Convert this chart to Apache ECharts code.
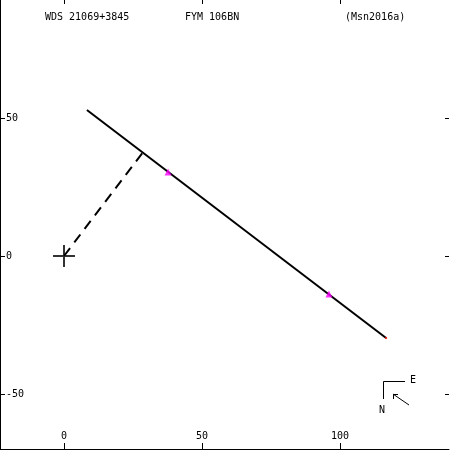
<!DOCTYPE html>
<html><head><meta charset="utf-8">
<script src="https://cdn.jsdelivr.net/npm/echarts@6/dist/echarts.min.js"></script>
<style>html,body{margin:0;padding:0;background:#fff}#c{width:450px;height:450px}</style>
</head><body><div id="c"></div>
<script>
// Data (arcsec-like units)
const titleTexts = ["WDS 21069+3845", "FYM 106BN", "(Msn2016a)"];
const xTicks = [0, 50, 100];
const yTicks = [-50, 0, 50];
const orbitLine = [[8.3, 52.9], [116.7, -29.7]];
const nodeLine = [[0, 0], [28.3, 37.2]];
const observations = [[37.7, 30.4], [96.0, -13.8]];
const primary = [[0, 0]];
const endPoint = [[116.7, -29.7]];

const font = 'DejaVu Sans Mono';
const chart = echarts.init(document.getElementById('c'), null, {renderer: 'canvas'});
const axisCommon = {type: 'value', splitLine: {show: false}};
chart.setOption({
  animation: false,
  backgroundColor: '#fff',
  grid: {left: 0, top: 0, width: 449, height: 449},
  xAxis: [
    Object.assign({}, axisCommon, {
      position: 'bottom', min: -23.19, max: 139.49,
      axisLine: {show: true, onZero: false, lineStyle: {color: '#000', width: 1}},
      axisTick: {show: true, inside: true, length: 6, customValues: xTicks, lineStyle: {color: '#000'}},
      axisLabel: {show: true, inside: true, margin: 8, customValues: xTicks, color: '#000', fontFamily: font, fontSize: 10}
    }),
    Object.assign({}, axisCommon, {
      position: 'top', min: -23.19, max: 139.49,
      axisLine: {show: false, onZero: false},
      axisTick: {show: true, inside: true, length: 4, customValues: xTicks, lineStyle: {color: '#000'}},
      axisLabel: {show: false}
    })
  ],
  yAxis: [
    Object.assign({}, axisCommon, {
      position: 'left', min: -69.93, max: 92.75,
      axisLine: {show: true, onZero: false, lineStyle: {color: '#000', width: 1}},
      axisTick: {show: true, inside: true, length: 5, customValues: yTicks, lineStyle: {color: '#000'}},
      axisLabel: {show: true, inside: true, margin: 6, customValues: yTicks, color: '#000', fontFamily: font, fontSize: 10}
    }),
    Object.assign({}, axisCommon, {
      position: 'right', min: -69.93, max: 92.75,
      axisLine: {show: false, onZero: false},
      axisTick: {show: true, inside: true, length: 4, customValues: yTicks, lineStyle: {color: '#000'}},
      axisLabel: {show: false}
    })
  ],
  series: [
    {type: 'line', data: orbitLine, symbol: 'none', lineStyle: {color: '#000', width: 2}, z: 2},
    {type: 'line', data: nodeLine, symbol: 'none', lineStyle: {color: '#000', width: 2, type: [10, 7]}, z: 2},
    {type: 'scatter', data: observations, symbol: 'triangle', symbolSize: 7, itemStyle: {color: '#ff00ff'}, z: 3},
    {type: 'scatter', data: primary, symbol: 'path://M0 10h22v2H0z M10 0h2v22h-2z', symbolSize: 22, itemStyle: {color: '#000'}, z: 3},
    {type: 'scatter', data: endPoint, symbol: 'rect', symbolSize: 2, itemStyle: {color: '#ff0000'}, z: 4}
  ],
  graphic: [
    {type: 'text', left: 45, top: 12, style: {text: titleTexts[0], font: '10px ' + font, fill: '#000'}},
    {type: 'text', left: 185, top: 12, style: {text: titleTexts[1], font: '10px ' + font, fill: '#000'}},
    {type: 'text', left: 345, top: 12, style: {text: titleTexts[2], font: '10px ' + font, fill: '#000'}},
    {type: 'polyline', shape: {points: [[383.5, 399], [383.5, 381.5], [405, 381.5]]}, style: {stroke: '#000', lineWidth: 1, fill: null}},
    {type: 'text', left: 410, top: 375, style: {text: 'E', font: '10px ' + font, fill: '#000'}},
    {type: 'text', left: 379, top: 405, style: {text: 'N', font: '10px ' + font, fill: '#000'}},
    {type: 'line', shape: {x1: 409, y1: 405, x2: 393, y2: 394}, style: {stroke: '#000', lineWidth: 1}},
    {type: 'polyline', shape: {points: [[398, 394.5], [393.5, 394.5], [393.5, 399]]}, style: {stroke: '#000', lineWidth: 1, fill: null}}
  ]
});
</script></body></html>
